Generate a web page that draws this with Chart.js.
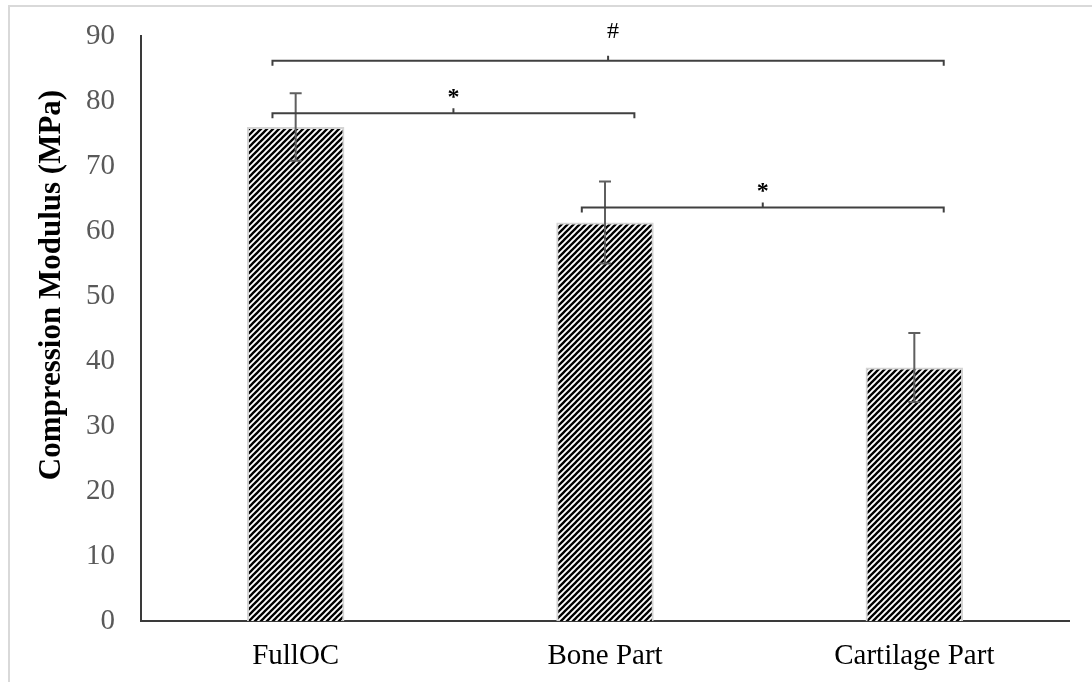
<!DOCTYPE html>
<html lang="en">
<head>
    <meta charset="UTF-8">
    <title>Compression Modulus</title>
    <script src="https://cdn.jsdelivr.net/npm/chart.js"></script>
    <style>
        body {
            margin: 0;
            background: #ffffff;
            font-family: 'Liberation Serif', serif;
        }
        .frame {
            position: absolute;
            left: 8px;
            top: 5px;
            width: 1100px;
            height: 700px;
            border-left: 2px solid #d9d9d9;
            border-top: 2px solid #d9d9d9;
        }
        .chart-box {
            position: absolute;
            left: 0;
            top: 0;
            width: 1092px;
            height: 682px;
        }
    </style>
</head>
<body>
    <div class="frame"></div>
    <div class="chart-box">
        <canvas id="modulusChart"></canvas>
    </div>

    <script>
        const categories = ['FullOC', 'Bone Part', 'Cartilage Part'];
        const modulus = [76.0, 61.3, 39.0];
        const modulusSD = [5.2, 6.3, 5.3];
        const yTicks = [0, 10, 20, 30, 40, 50, 60, 70, 80, 90];
        const yTitle = 'Compression Modulus (MPa)';

        // significance brackets: between which categories, at what height, and the mark
        const bracketFrom = [0, 0, 1];
        const bracketTo = [2, 1, 2];
        const bracketLevel = [86.2, 78.1, 63.6];
        const bracketMark = ['#', '*', '*'];

        // diagonal hatch like the original figure
        function makeHatch() {
            const c = document.createElement('canvas');
            c.width = 6;
            c.height = 6;
            const g = c.getContext('2d');
            g.fillStyle = '#ffffff';
            g.fillRect(0, 0, 6, 6);
            g.strokeStyle = '#000000';
            g.lineWidth = 2.3;
            [[0, 6, 6, 0], [-3, 3, 3, -3], [3, 9, 9, 3]].forEach(l => {
                g.beginPath();
                g.moveTo(l[0], l[1]);
                g.lineTo(l[2], l[3]);
                g.stroke();
            });
            return g.createPattern(c, 'repeat');
        }

        const extrasPlugin = {
            id: 'extras',
            afterDatasetsDraw(chart) {
                const ctx = chart.ctx;
                const x = chart.scales.x;
                const y = chart.scales.y;

                // error bars
                ctx.save();
                ctx.strokeStyle = '#5f5f5f';
                ctx.lineWidth = 2;
                modulus.forEach((v, i) => {
                    const px = x.getPixelForValue(i);
                    const top = y.getPixelForValue(v + modulusSD[i]);
                    const bot = y.getPixelForValue(v - modulusSD[i]);
                    ctx.beginPath();
                    ctx.moveTo(px, top);
                    ctx.lineTo(px, bot);
                    ctx.moveTo(px - 6, top);
                    ctx.lineTo(px + 6, top);
                    ctx.moveTo(px - 6, bot);
                    ctx.lineTo(px + 6, bot);
                    ctx.stroke();
                });
                ctx.restore();

                // brackets
                ctx.save();
                ctx.strokeStyle = '#404040';
                ctx.lineWidth = 2;
                ctx.fillStyle = '#000000';
                ctx.textAlign = 'center';
                ctx.textBaseline = 'bottom';
                bracketMark.forEach((m, i) => {
                    const x1 = x.getPixelForValue(bracketFrom[i] - 0.075);
                    const x2 = x.getPixelForValue(bracketTo[i] + 0.095);
                    const py = y.getPixelForValue(bracketLevel[i]);
                    const mid = (x1 + x2) / 2;
                    ctx.beginPath();
                    ctx.moveTo(x1, py + 5);
                    ctx.lineTo(x1, py);
                    ctx.lineTo(x2, py);
                    ctx.lineTo(x2, py + 5);
                    ctx.moveTo(mid, py);
                    ctx.lineTo(mid, py - 5);
                    ctx.stroke();
                    if (m === '#') {
                        ctx.font = '24px "Liberation Serif"';
                        ctx.fillText(m, mid + 5, py - 17);
                    } else {
                        ctx.font = 'bold 24px "Liberation Serif"';
                        ctx.fillText(m, mid, py - 4);
                    }
                });
                ctx.restore();

                // y axis title (sits a bit above the plot middle in the original)
                ctx.save();
                ctx.translate(60, 285);
                ctx.rotate(-Math.PI / 2);
                ctx.font = 'bold 31px "Liberation Serif"';
                ctx.fillStyle = '#000000';
                ctx.textAlign = 'center';
                ctx.textBaseline = 'alphabetic';
                ctx.fillText(yTitle, 0, 0);
                ctx.restore();
            }
        };

        const ctx = document.getElementById('modulusChart').getContext('2d');
        new Chart(ctx, {
            type: 'bar',
            data: {
                labels: categories,
                datasets: [{
                    label: 'Compression Modulus',
                    data: modulus,
                    backgroundColor: makeHatch(),
                    borderColor: '#d4d4d4',
                    borderWidth: 2,
                    barPercentage: 0.63,
                    categoryPercentage: 0.5
                }]
            },
            options: {
                responsive: true,
                maintainAspectRatio: false,
                animation: false,
                layout: { padding: { top: 36, right: 23, left: 0, bottom: 0 } },
                plugins: {
                    legend: { display: false },
                    tooltip: { enabled: false }
                },
                scales: {
                    x: {
                        grid: { display: false, drawTicks: false },
                        border: { color: '#3a3a3a', width: 2 },
                        ticks: {
                            color: '#000000',
                            padding: 18,
                            font: { family: 'Liberation Serif', size: 29 }
                        },
                        afterFit: s => { s.height = 61; }
                    },
                    y: {
                        min: 0,
                        max: 90,
                        afterBuildTicks: s => { s.ticks = yTicks.map(v => ({ value: v })); },
                        grid: { display: false, drawTicks: false },
                        border: { color: '#3a3a3a', width: 2 },
                        ticks: {
                            color: '#595959',
                            padding: 26,
                            font: { family: 'Liberation Serif', size: 29 }
                        },
                        afterFit: s => {
                            s.width = 141;
                            s.paddingTop = 0;
                            s.paddingBottom = 0;
                        }
                    }
                }
            },
            plugins: [extrasPlugin]
        });
    </script>
</body>
</html>
